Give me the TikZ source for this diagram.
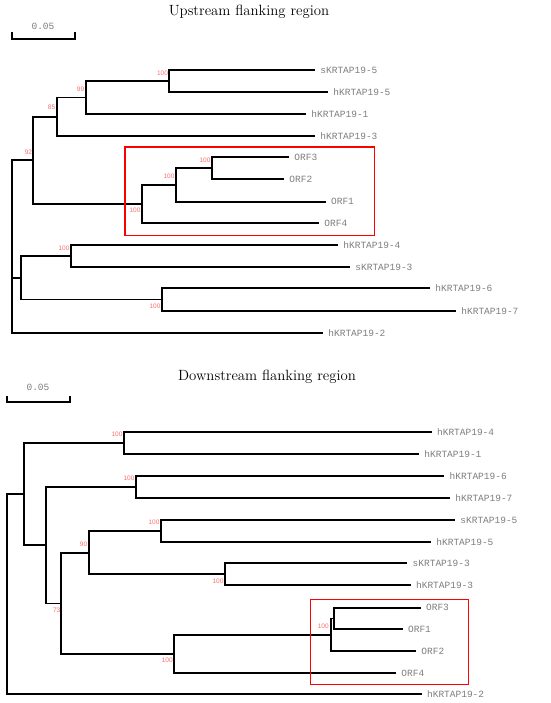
\documentclass[tikz,border=0pt]{standalone}
\usepackage{fontspec}
\newfontfamily\leaffont{Liberation Mono}
\newfontfamily\bootfont{Liberation Sans}
\usetikzlibrary{positioning}
\definecolor{leafgray}{RGB}{125,125,125}
\definecolor{bootred}{RGB}{250,110,110}
\begin{document}
\begin{tikzpicture}[x=1pt,y=-1pt,line width=1.8pt,font=\leaffont]

\tikzset{
  leaf/.style={anchor=west,inner xsep=4.5pt,inner ysep=0pt,text=leafgray,font=\leaffont\fontsize{9.5}{10}\selectfont},
  boot/.style={inner sep=0pt,text=bootred,font=\bootfont\fontsize{6.5}{7}\selectfont},
  title/.style={font=\fontsize{14.8}{17}\selectfont},
  orfbox/.style={draw=red,line width=1.4pt},
  branch/.style={draw=black}
}

\useasboundingbox (0,0) rectangle (550,703);

% upstream tree
\node[title] (tup) at (249,12) {Upstream flanking region};
\coordinate (su1) at (12,32);
\coordinate (su2) at (75,32);
\draw (su1) -- ++(0,7) -| (su2);
\node[leaf,anchor=center] (sup) at (43,26) {0.05};

\coordinate (u0) at (12,246);
\coordinate (u92) at (33,160);
\coordinate (u85) at (57,117);
\coordinate (u99) at (86,97.5);
\coordinate (ua) at (169,81);
\coordinate (uorf) at (142,204);
\coordinate (uo2) at (176,185.3);
\coordinate (uo3) at (212,168.3);
\coordinate (u21) at (21.3,278);
\coordinate (u4) at (70.7,256);
\coordinate (u6) at (162,299.5);

\node[leaf] (usk5) at (315,70.3) {sKRTAP19-5};
\node[leaf] (uhk5) at (328,91.7) {hKRTAP19-5};
\node[leaf] (uhk1) at (306,113.7) {hKRTAP19-1};
\node[leaf] (uhk3) at (315,135.7) {hKRTAP19-3};
\node[leaf] (uorf3) at (289,157.3) {ORF3};
\node[leaf] (uorf2) at (284,179.3) {ORF2};
\node[leaf] (uorf1) at (325.7,201.7) {ORF1};
\node[leaf] (uorf4) at (319,223) {ORF4};
\node[leaf] (uhk4) at (338,245.3) {hKRTAP19-4};
\node[leaf] (usk3) at (350,267) {sKRTAP19-3};
\node[leaf] (uhk6) at (430,288.3) {hKRTAP19-6};
\node[leaf] (uhk7) at (456,310.7) {hKRTAP19-7};
\node[leaf] (uhk2) at (323,332.7) {hKRTAP19-2};

\path[branch]
    (u0) |- (u92) (u0) |- (u21) (u0) |- (uhk2.west)
    (u92) |- (u85) (u92) |- (uorf)
    (u85) |- (u99) (u85) |- (uhk3.west)
    (u99) |- (ua) (u99) |- (uhk1.west)
    (ua) |- (usk5.west) (ua) |- (uhk5.west)
    (uorf) |- (uo2) (uorf) |- (uorf4.west)
    (uo2) |- (uo3) (uo2) |- (uorf1.west)
    (uo3) |- (uorf3.west) (uo3) |- (uorf2.west)
    (u21) |- (u4) (u21) |- (u6)
    (u4) |- (uhk4.west) (u4) |- (usk3.west)
    (u6) |- (uhk6.west) (u6) |- (uhk7.west);

\node[boot] (bua) at (162.5,73) {100};
\node[boot] (bu99) at (80.5,89) {99};
\node[boot] (bu85) at (51.5,107.5) {85};
\node[boot] (bu92) at (28.5,152) {92};
\node[boot] (buo3) at (205,160) {100};
\node[boot] (buo2) at (169,176) {100};
\node[boot] (buorf) at (135,210) {100};
\node[boot] (bu4) at (64,248) {100};
\node[boot] (bu6) at (155,306.7) {100};

\draw[orfbox] (125,147) rectangle (374.7,235.3);

% downstream tree
\node[title] (tdown) at (267,377) {Downstream flanking region};
\coordinate (sd1) at (6.7,396);
\coordinate (sd2) at (70.3,396);
\draw (sd1) -- ++(0,5.7) -| (sd2);
\node[leaf,anchor=center] (sdown) at (38,387.3) {0.05};

\coordinate (d0) at (6.7,593.8);
\coordinate (d24) at (24,494.2);
\coordinate (d4) at (124.3,443.2);
\coordinate (d45) at (45.7,544.8);
\coordinate (d6) at (135.7,487.2);
\coordinate (d73) at (60.7,603.5);
\coordinate (d90) at (88.7,553);
\coordinate (d5) at (160.7,531);
\coordinate (d3) at (225,574.3);
\coordinate (dorf) at (173.7,654.2);
\coordinate (do2) at (330.7,635);
\coordinate (do3) at (334,618.5);

\node[leaf] (dhk4) at (431.7,432) {hKRTAP19-4};
\node[leaf] (dhk1) at (419,454.3) {hKRTAP19-1};
\node[leaf] (dhk6) at (444.3,476.3) {hKRTAP19-6};
\node[leaf] (dhk7) at (450,498) {hKRTAP19-7};
\node[leaf] (dsk5) at (455,520) {sKRTAP19-5};
\node[leaf] (dhk5) at (431,542) {hKRTAP19-5};
\node[leaf] (dsk3) at (407.3,563.3) {sKRTAP19-3};
\node[leaf] (dhk3) at (410.7,585.3) {hKRTAP19-3};
\node[leaf] (dorf3) at (420.7,607.7) {ORF3};
\node[leaf] (dorf1) at (402.7,629.3) {ORF1};
\node[leaf] (dorf2) at (416,651.3) {ORF2};
\node[leaf] (dorf4) at (396,673.3) {ORF4};
\node[leaf] (dhk2) at (421.7,694.3) {hKRTAP19-2};

\path[branch]
    (d0) |- (d24) (d0) |- (dhk2.west)
    (d24) |- (d4) (d24) |- (d45)
    (d4) |- (dhk4.west) (d4) |- (dhk1.west)
    (d45) |- (d6) (d45) |- (d73)
    (d6) |- (dhk6.west) (d6) |- (dhk7.west)
    (d73) |- (d90) (d73) |- (dorf)
    (d90) |- (d5) (d90) |- (d3)
    (d5) |- (dsk5.west) (d5) |- (dhk5.west)
    (d3) |- (dsk3.west) (d3) |- (dhk3.west)
    (dorf) |- (do2) (dorf) |- (dorf4.west)
    (do2) |- (do3) (do2) |- (dorf2.west)
    (do3) |- (dorf3.west) (do3) |- (dorf1.west);

\node[boot] (bd4) at (117,434.7) {100};
\node[boot] (bd6) at (129,478.7) {100};
\node[boot] (bd5) at (154,522.7) {100};
\node[boot] (bd90) at (83.5,544.3) {90};
\node[boot] (bd3) at (218,581) {100};
\node[boot] (bd73) at (56.7,610) {73};
\node[boot] (bdo2) at (323.3,626.7) {100};
\node[boot] (bdorf) at (167.3,660) {100};

\draw[orfbox] (310.7,599.3) rectangle (468.7,684.3);
\end{tikzpicture}
\end{document}
